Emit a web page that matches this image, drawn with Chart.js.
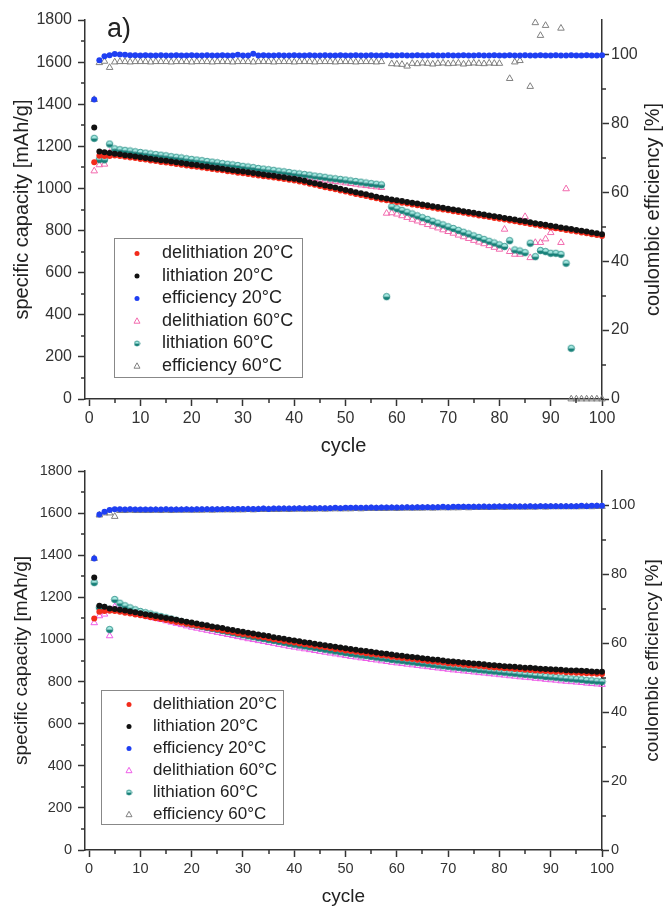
<!DOCTYPE html>
<html>
<head>
<meta charset="utf-8">
<script src="https://cdn.jsdelivr.net/npm/chart.js@4.4.0/dist/chart.umd.min.js"></script>
<style>
  html, body { margin: 0; padding: 0; background: #fff; }
  .box { position: absolute; left: 0; }
</style>
</head>
<body>
<div class="box" style="top:0"><canvas id="chartA" width="666" height="460"></canvas></div>
<div class="box" style="top:453px"><canvas id="chartB" width="666" height="454"></canvas></div>
<script>
// cycle numbers (x)
const cycles = [
  1, 2, 3, 4, 5, 6, 7, 8, 9, 10, 11, 12, 13, 14, 15, 16, 17, 18, 19, 20,
  21, 22, 23, 24, 25, 26, 27, 28, 29, 30, 31, 32, 33, 34, 35, 36, 37, 38, 39, 40,
  41, 42, 43, 44, 45, 46, 47, 48, 49, 50, 51, 52, 53, 54, 55, 56, 57, 58, 59, 60,
  61, 62, 63, 64, 65, 66, 67, 68, 69, 70, 71, 72, 73, 74, 75, 76, 77, 78, 79, 80,
  81, 82, 83, 84, 85, 86, 87, 88, 89, 90, 91, 92, 93, 94, 95, 96, 97, 98, 99, 100
];

const seriesLabels = ['delithiation 20°C', 'lithiation 20°C', 'efficiency 20°C',
                      'delithiation 60°C', 'lithiation 60°C', 'efficiency 60°C'];

// tick label values
const cycleTicks = [0, 10, 20, 30, 40, 50, 60, 70, 80, 90, 100];
const effTicks = [0, 20, 40, 60, 80, 100];

// ---- panel a) ----
const delith20A = [
  1125, 1155, 1154, 1154, 1156, 1154, 1150, 1147, 1144, 1140,
  1137, 1133, 1130, 1126, 1123, 1120, 1116, 1113, 1109, 1106,
  1103, 1099, 1096, 1092, 1089, 1086, 1082, 1079, 1075, 1072,
  1069, 1065, 1062, 1058, 1055, 1052, 1048, 1045, 1041, 1038,
  1033, 1028, 1022, 1017, 1012, 1006, 1001, 996, 990, 985,
  980, 974, 969, 964, 958, 953, 948, 944, 940, 936,
  932, 928, 924, 920, 916, 912, 908, 904, 900, 896,
  892, 888, 884, 880, 876, 872, 868, 864, 860, 856,
  852, 848, 844, 840, 836, 831, 827, 823, 819, 815,
  811, 807, 803, 799, 795, 791, 787, 783, 779, 774
];
const lith20A = [
  1290, 1176, 1172, 1168, 1165, 1162, 1158, 1155, 1152, 1148,
  1145, 1141, 1138, 1134, 1131, 1128, 1124, 1121, 1117, 1114,
  1111, 1107, 1104, 1100, 1097, 1094, 1090, 1087, 1083, 1080,
  1077, 1073, 1070, 1066, 1063, 1060, 1056, 1053, 1049, 1046,
  1041, 1036, 1030, 1025, 1020, 1014, 1009, 1004, 998, 993,
  988, 982, 977, 972, 966, 961, 956, 952, 948, 944,
  940, 936, 932, 928, 924, 920, 916, 912, 908, 904,
  900, 896, 892, 888, 884, 880, 876, 872, 868, 864,
  860, 856, 852, 848, 844, 839, 835, 831, 827, 823,
  819, 815, 811, 807, 803, 799, 795, 791, 787, 782
];
const eff20A = [
  86.9, 98.3, 99.5, 99.8, 100.1, 100.0, 99.9, 99.8, 99.8, 99.7,
  99.8, 99.7, 99.7, 99.8, 99.7, 99.7, 99.8, 99.7, 99.7, 99.8,
  99.7, 99.7, 99.8, 99.7, 99.7, 99.8, 99.7, 99.7, 99.9, 99.7,
  99.7, 100.2, 99.7, 99.8, 99.7, 99.7, 99.8, 99.7, 99.7, 99.8,
  99.7, 99.7, 99.8, 99.7, 99.7, 99.8, 99.7, 99.7, 99.8, 99.7,
  99.7, 99.8, 99.7, 99.7, 99.8, 99.7, 99.7, 99.8, 99.7, 99.7,
  99.8, 99.7, 99.7, 99.8, 99.7, 99.7, 99.8, 99.7, 99.7, 99.8,
  99.7, 99.7, 99.8, 99.7, 99.7, 99.8, 99.7, 99.7, 99.8, 99.7,
  99.7, 99.8, 99.7, 99.7, 99.8, 99.7, 99.7, 99.8, 99.7, 99.7,
  99.8, 99.7, 99.7, 99.8, 99.7, 99.7, 99.8, 99.7, 99.7, 99.8
];
const delith60A = [
  1083, 1112, 1115, 1170, 1174, 1171, 1168, 1164, 1161, 1158,
  1154, 1151, 1148, 1145, 1141, 1138, 1135, 1131, 1128, 1125,
  1122, 1118, 1115, 1112, 1108, 1105, 1102, 1099, 1095, 1092,
  1089, 1085, 1082, 1079, 1076, 1072, 1069, 1066, 1062, 1059,
  1056, 1053, 1049, 1046, 1043, 1039, 1036, 1033, 1030, 1026,
  1023, 1020, 1016, 1013, 1010, 1007, 1004, 882, 884, 878,
  870, 862, 853, 845, 837, 828, 820, 812, 803, 795,
  787, 778, 770, 762, 753, 745, 737, 728, 720, 711,
  806, 700, 687, 687, 866, 671, 743, 743, 760, 790,
  811, 743, 998, null, null, null, null, null, null, null
];
const lith60A = [
  1238, 1137, 1136, 1211, 1188, 1184, 1181, 1178, 1174, 1171,
  1168, 1164, 1161, 1158, 1155, 1151, 1148, 1145, 1141, 1138,
  1135, 1132, 1128, 1125, 1122, 1118, 1115, 1112, 1109, 1105,
  1102, 1099, 1095, 1092, 1089, 1086, 1082, 1079, 1076, 1072,
  1069, 1066, 1063, 1059, 1056, 1053, 1049, 1046, 1043, 1040,
  1036, 1033, 1030, 1026, 1023, 1020, 1017, 486, 913, 904,
  896, 887, 879, 870, 861, 853, 844, 835, 827, 818,
  810, 801, 792, 784, 775, 767, 758, 749, 741, 732,
  724, 752, 708, 703, 695, 740, 676, 705, 700, 692,
  692, 687, 645, 241, null, null, null, null, null, null
];
const eff60A = [
  86.9, 97.6, 98.0, 96.2, 97.8, 97.9, 97.9, 97.8, 97.9, 97.9,
  97.9, 97.8, 97.9, 97.9, 97.9, 97.8, 97.9, 97.9, 97.9, 97.8,
  97.9, 97.9, 97.9, 97.8, 97.9, 97.9, 97.9, 97.8, 97.9, 97.9,
  97.9, 97.8, 97.9, 97.9, 97.9, 97.8, 97.9, 97.9, 97.9, 97.8,
  97.9, 97.9, 97.9, 97.8, 97.9, 97.9, 97.9, 97.8, 97.9, 97.9,
  97.9, 97.8, 97.9, 97.9, 97.9, 97.8, 97.9, null, 97.3, 97.2,
  97.1, 96.6, 97.4, 97.3, 97.5, 97.4, 97.2, 97.4, 97.5, 97.3,
  97.4, 97.5, 97.2, 97.4, 97.5, 97.4, 97.3, 97.5, 97.4, 97.4,
  null, 93.0, 97.8, 98.2, null, 90.7, 109.2, 105.5, 108.4, null,
  null, 107.6, null, 0, 0, 0, 0, 0, 0, 0
];

// ---- panel b) ----
const delith20B = [
  1100, 1131, 1135, 1136, 1135, 1131, 1127, 1123, 1119, 1115,
  1110, 1106, 1101, 1097, 1092, 1088, 1083, 1079, 1074, 1070,
  1066, 1061, 1057, 1052, 1048, 1044, 1039, 1035, 1030, 1026,
  1022, 1018, 1014, 1010, 1006, 1001, 997, 993, 989, 985,
  981, 977, 974, 970, 966, 963, 959, 955, 952, 948,
  945, 941, 938, 935, 931, 928, 925, 922, 918, 915,
  912, 909, 907, 904, 901, 898, 895, 893, 890, 887,
  885, 883, 880, 878, 876, 874, 872, 869, 867, 865,
  863, 862, 860, 858, 856, 855, 853, 851, 850, 848,
  847, 846, 844, 843, 842, 841, 840, 838, 837, 836
];
const lith20B = [
  1294, 1160, 1155, 1147, 1145, 1141, 1137, 1133, 1129, 1125,
  1120, 1116, 1111, 1107, 1102, 1098, 1093, 1089, 1084, 1080,
  1076, 1071, 1067, 1062, 1058, 1054, 1049, 1045, 1040, 1036,
  1032, 1028, 1024, 1020, 1016, 1011, 1007, 1003, 999, 995,
  991, 987, 984, 980, 976, 973, 969, 965, 962, 958,
  955, 951, 948, 945, 941, 938, 935, 932, 928, 925,
  922, 919, 917, 914, 911, 908, 905, 903, 900, 897,
  895, 893, 890, 888, 886, 884, 882, 879, 877, 875,
  873, 872, 870, 868, 866, 865, 863, 861, 860, 858,
  857, 856, 854, 853, 852, 851, 850, 848, 847, 846
];
const eff20B = [
  84.6, 97.4, 98.2, 98.7, 98.9, 98.9, 98.8, 98.9, 98.8, 98.8,
  98.8, 98.8, 98.8, 98.8, 98.9, 98.8, 98.8, 98.8, 98.9, 98.8,
  98.9, 98.9, 98.9, 98.9, 98.9, 98.9, 99.0, 98.9, 99.0, 99.0,
  99.0, 99.0, 99.0, 99.1, 99.0, 99.1, 99.1, 99.1, 99.1, 99.1,
  99.2, 99.1, 99.2, 99.2, 99.2, 99.2, 99.2, 99.3, 99.2, 99.3,
  99.3, 99.3, 99.3, 99.3, 99.4, 99.3, 99.4, 99.4, 99.4, 99.4,
  99.4, 99.5, 99.4, 99.5, 99.5, 99.5, 99.5, 99.5, 99.6, 99.5,
  99.6, 99.6, 99.6, 99.6, 99.6, 99.6, 99.7, 99.6, 99.7, 99.7,
  99.7, 99.7, 99.7, 99.7, 99.7, 99.8, 99.7, 99.8, 99.8, 99.8,
  99.8, 99.8, 99.8, 99.8, 99.8, 99.9, 99.8, 99.9, 99.9, 99.9
];
const delith60B = [
  1079, 1112, 1120, 1017, 1155, 1145, 1138, 1131, 1124, 1118,
  1112, 1106, 1100, 1094, 1088, 1082, 1076, 1070, 1064, 1058,
  1053, 1048, 1043, 1038, 1033, 1028, 1023, 1018, 1013, 1008,
  1003, 999, 994, 990, 985, 981, 976, 972, 967, 963,
  959, 955, 951, 947, 943, 939, 935, 931, 927, 923,
  919, 916, 912, 909, 905, 902, 898, 895, 891, 888,
  885, 882, 879, 876, 873, 870, 867, 864, 861, 858,
  855, 853, 850, 848, 845, 842, 840, 837, 835, 832,
  830, 827, 825, 822, 820, 818, 815, 813, 810, 808,
  806, 803, 801, 799, 797, 795, 792, 790, 788, 786
];
const lith60B = [
  1270, 1152, 1150, 1047, 1190, 1172, 1160, 1150, 1141, 1133,
  1127, 1121, 1115, 1109, 1103, 1097, 1091, 1085, 1078, 1072,
  1067, 1062, 1057, 1052, 1047, 1042, 1037, 1032, 1027, 1022,
  1017, 1013, 1008, 1004, 999, 995, 990, 986, 981, 977,
  973, 969, 965, 961, 957, 953, 949, 945, 941, 937,
  933, 930, 926, 923, 919, 916, 912, 909, 905, 902,
  899, 896, 893, 890, 887, 884, 881, 878, 875, 872,
  869, 867, 864, 862, 859, 856, 854, 851, 849, 846,
  844, 841, 839, 836, 834, 832, 829, 827, 824, 822,
  820, 817, 815, 813, 811, 809, 806, 804, 802, 800
];
const eff60B = [
  84.6, 97.2, 97.8, 97.8, 96.8, 98.5, 98.5, 98.6, 98.5, 98.5,
  98.5, 98.5, 98.6, 98.5, 98.6, 98.5, 98.6, 98.6, 98.6, 98.6,
  98.6, 98.6, 98.7, 98.6, 98.7, 98.7, 98.7, 98.7, 98.7, 98.7,
  98.8, 98.7, 98.8, 98.8, 98.8, 98.8, 98.8, 98.9, 98.8, 98.9,
  98.9, 98.9, 98.9, 98.9, 99.0, 98.9, 99.0, 99.0, 99.0, 99.0,
  99.0, 99.1, 99.0, 99.1, 99.1, 99.1, 99.1, 99.1, 99.2, 99.1,
  99.2, 99.2, 99.2, 99.2, 99.2, 99.3, 99.2, 99.3, 99.3, 99.3,
  99.3, 99.3, 99.4, 99.3, 99.4, 99.4, 99.4, 99.4, 99.4, 99.5,
  99.4, 99.5, 99.5, 99.5, 99.5, 99.5, 99.5, 99.6, 99.5, 99.6,
  99.6, 99.6, 99.6, 99.6, 99.6, 99.6, 99.7, 99.6, 99.7, 99.7
];

const FONT = "'Liberation Sans', Arial, sans-serif";
const AXIS = '#333333';

// teal half-filled circle marker
function halfDot(r) {
  const c = document.createElement('canvas');
  const s = Math.ceil(r * 2 + 2);
  c.width = s; c.height = s;
  const g = c.getContext('2d');
  const m = s / 2;
  g.fillStyle = '#a8ece4';
  g.beginPath(); g.arc(m, m, r, Math.PI, 2 * Math.PI); g.fill();
  g.fillStyle = '#168078';
  g.beginPath(); g.arc(m, m, r, 0, Math.PI); g.fill();
  g.strokeStyle = '#168078'; g.lineWidth = 0.8;
  g.beginPath(); g.arc(m, m, r, 0, 2 * Math.PI); g.stroke();
  return c;
}
const tealDot = halfDot(3.2);
const tealDotSmall = halfDot(2.5);

// minor ticks between the library's major ticks
const minorTicks = {
  id: 'minorTicks',
  afterDraw(chart) {
    const {ctx} = chart;
    const {x, y, y2} = chart.scales;
    ctx.save();
    ctx.strokeStyle = AXIS;
    ctx.lineWidth = 1.5;
    ctx.beginPath();
    for (let v = 5; v < 100; v += 10) {
      const px = Math.round(x.getPixelForValue(v));
      ctx.moveTo(px, x.top); ctx.lineTo(px, x.top + 4);
    }
    for (let v = 100; v < 1800; v += 200) {
      const py = Math.round(y.getPixelForValue(v));
      ctx.moveTo(y.right, py); ctx.lineTo(y.right - 4, py);
    }
    for (let v = 10; v < 110; v += 20) {
      const py = Math.round(y2.getPixelForValue(v));
      ctx.moveTo(y2.left, py); ctx.lineTo(y2.left + 4, py);
    }
    ctx.stroke();
    ctx.restore();
  }
};

// legend box in the lower left + extra labels
const boxLegend = {
  id: 'boxLegend',
  afterDraw(chart, args, o) {
    const {ctx} = chart;
    const ca = chart.chartArea;
    ctx.save();
    ctx.strokeStyle = '#888';
    ctx.lineWidth = 1;
    ctx.strokeRect(o.x + 0.5, o.y + 0.5, o.w, o.h);
    ctx.font = o.fontSize + 'px ' + FONT;
    ctx.textBaseline = 'middle';
    ctx.textAlign = 'left';
    chart.data.datasets.forEach((ds, i) => {
      const cy = o.rowY + i * o.rowH;
      const cx = o.markerX;
      if (ds.pointStyle === 'circle') {
        ctx.fillStyle = ds.backgroundColor;
        ctx.beginPath(); ctx.arc(cx, cy, 2.5, 0, 2 * Math.PI); ctx.fill();
      } else if (ds.pointStyle === 'triangle') {
        ctx.strokeStyle = ds.borderColor;
        ctx.lineWidth = 1;
        ctx.beginPath();
        ctx.moveTo(cx, cy - 3.2); ctx.lineTo(cx + 3, cy + 2.2); ctx.lineTo(cx - 3, cy + 2.2);
        ctx.closePath(); ctx.stroke();
      } else {
        ctx.drawImage(tealDotSmall, cx - tealDotSmall.width / 2, cy - tealDotSmall.height / 2);
      }
      ctx.fillStyle = '#222';
      ctx.fillText(ds.label, o.textX, cy);
    });
    // right-hand axis title, reading upward
    ctx.save();
    ctx.translate(o.rightTitleX, (ca.top + ca.bottom) / 2);
    ctx.rotate(-Math.PI / 2);
    ctx.textAlign = 'center';
    ctx.font = o.titleSize + 'px ' + FONT;
    ctx.fillStyle = '#222';
    ctx.fillText('coulombic efficiency [%]', 0, 0);
    ctx.restore();
    if (o.panel) {
      ctx.font = '27px ' + FONT;
      ctx.textBaseline = 'alphabetic';
      ctx.fillStyle = '#222';
      ctx.fillText(o.panel, 107, 37);
    }
    ctx.restore();
  }
};

const plain = v => String(v);

function makeChart(id, series, pinkColor, geo) {
  const ctx = document.getElementById(id).getContext('2d');
  const tickFont = {family: FONT, size: geo.tickSize};
  const grid = {display: true, drawOnChartArea: false, drawTicks: true, tickLength: 7, tickWidth: 1.5, tickColor: AXIS};
  const border = {display: true, color: AXIS, width: 1.5};
  return new Chart(ctx, {
    type: 'line',
    data: {
      labels: cycles,
      datasets: [
        {label: seriesLabels[0], data: series[0], yAxisID: 'y', order: 2, pointStyle: 'circle', pointRadius: 3,
         backgroundColor: '#f22b1b', borderColor: '#f22b1b', pointBorderWidth: 0},
        {label: seriesLabels[1], data: series[1], yAxisID: 'y', order: 0, pointStyle: 'circle', pointRadius: 3,
         backgroundColor: '#111111', borderColor: '#111111', pointBorderWidth: 0},
        {label: seriesLabels[2], data: series[2], yAxisID: 'y2', order: 1, pointStyle: 'circle', pointRadius: 3,
         backgroundColor: '#1f3ff2', borderColor: '#1f3ff2', pointBorderWidth: 0},
        {label: seriesLabels[3], data: series[3], yAxisID: 'y', order: 4, pointStyle: 'triangle', pointRadius: 3.8,
         backgroundColor: 'rgba(255,255,255,0)', borderColor: pinkColor, pointBorderWidth: 1},
        {label: seriesLabels[4], data: series[4], yAxisID: 'y', order: 3, pointStyle: tealDot, pointRadius: 3.2,
         backgroundColor: '#168078', borderColor: '#168078', pointBorderWidth: 0},
        {label: seriesLabels[5], data: series[5], yAxisID: 'y2', order: 5, pointStyle: 'triangle', pointRadius: 3.8,
         backgroundColor: 'rgba(255,255,255,0)', borderColor: '#808080', pointBorderWidth: 1}
      ].map(d => Object.assign(d, {showLine: false, clip: 8}))
    },
    options: {
      responsive: false,
      animation: false,
      devicePixelRatio: 1,
      layout: {padding: {top: geo.top, left: 0, right: 0, bottom: 0}},
      plugins: {
        legend: {display: false},
        tooltip: {enabled: false},
        boxLegend: geo.legend
      },
      scales: {
        x: {
          type: 'linear', min: -0.8, max: 100,
          grid: grid, border: border,
          ticks: {stepSize: 10, color: AXIS, font: tickFont, padding: 3, maxRotation: 0, callback: plain},
          afterBuildTicks: s => { s.ticks = cycleTicks.map(v => ({value: v})); },
          afterFit: s => { s.height = geo.xHeight; },
          title: {display: true, text: 'cycle', color: '#222', font: {family: FONT, size: geo.titleSize, lineHeight: 1.2},
                  padding: {top: 0, bottom: geo.xTitlePad}}
        },
        y: {
          type: 'linear', position: 'left', min: 0, max: 1800,
          grid: grid, border: border,
          ticks: {stepSize: 200, color: AXIS, font: tickFont, padding: 6, callback: plain},
          afterFit: s => { s.width = 85; },
          title: {display: true, text: 'specific capacity [mAh/g]', color: '#222',
                  font: {family: FONT, size: geo.titleSize, lineHeight: 1.2}, padding: {top: 10, bottom: 0}}
        },
        y2: {
          type: 'linear', position: 'right', min: 0, max: 110,
          grid: grid, border: border,
          ticks: {stepSize: 20, color: AXIS, font: tickFont, padding: 2, callback: plain},
          afterBuildTicks: s => { s.ticks = effTicks.map(v => ({value: v})); },
          afterFit: s => { s.width = 64; }
        }
      }
    },
    plugins: [minorTicks, boxLegend]
  });
}

makeChart('chartA', [delith20A, lith20A, eff20A, delith60A, lith60A, eff60A], '#f26aae', {
  top: 20, xHeight: 61, xTitlePad: 2, tickSize: 16, titleSize: 20,
  legend: {x: 114, y: 238, w: 188, h: 139, markerX: 137, textX: 162, rowY: 253.5, rowH: 22.5,
           fontSize: 18, rightTitleX: 653, titleSize: 20, panel: 'a)'}
});

makeChart('chartB', [delith20B, lith20B, eff20B, delith60B, lith60B, eff60B], '#ee5ee8', {
  top: 18, xHeight: 57, xTitlePad: -1, tickSize: 14.5, titleSize: 19,
  legend: {x: 101, y: 237, w: 182, h: 134, markerX: 129, textX: 153, rowY: 251.5, rowH: 22,
           fontSize: 17, rightTitleX: 653, titleSize: 19, panel: null}
});
</script>
</body>
</html>
